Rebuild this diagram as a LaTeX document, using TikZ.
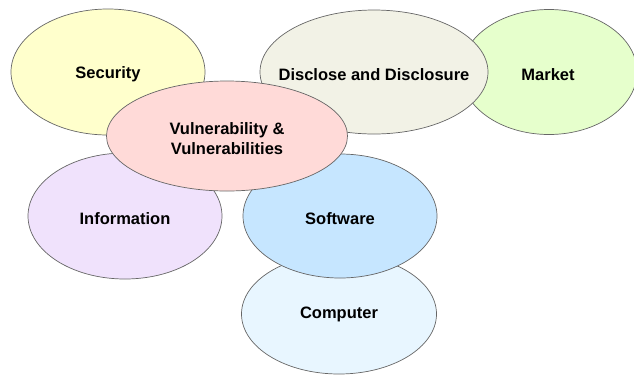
\documentclass[tikz,border=0pt]{standalone}
\usepackage{fontspec}
\setmainfont{Liberation Sans}
\definecolor{cSec}{HTML}{FFFFCC}
\definecolor{cMkt}{HTML}{E6FFCC}
\definecolor{cDis}{HTML}{F2F2E6}
\definecolor{cVul}{HTML}{FFDAD8}
\definecolor{cInf}{HTML}{F0E2FC}
\definecolor{cSoft}{HTML}{C6E6FF}
\definecolor{cComp}{HTML}{E8F6FF}
\definecolor{cEdge}{HTML}{666666}
\tikzset{
  bubble/.style={draw=cEdge, line width=0.7pt},
  topic/.style={inner sep=0pt, align=center, yshift=-2.5pt,
    font=\fontsize{16.5}{20}\selectfont\bfseries}
}
\begin{document}
\begin{tikzpicture}[x=1pt,y=-1pt]
\useasboundingbox (0,0) rectangle (634,376);
% Security
\draw[bubble, fill=cSec] (108,72) ellipse [x radius=97, y radius=63];
\node[topic] (sec) at (108,72) {Security};
% Market
\draw[bubble, fill=cMkt] (549,72) ellipse [x radius=88, y radius=62.5];
\node[topic] (mkt) at (548,72) {Market};
% Disclose and Disclosure
\draw[bubble, fill=cDis] (374,72) ellipse [x radius=114, y radius=62];
\node[topic] (dis) at (374,72) {Disclose and Disclosure};
% Information
\draw[bubble, fill=cInf] (125,216) ellipse [x radius=97, y radius=63];
\node[topic] (inf) at (125,216) {Information};
% Computer
\draw[bubble, fill=cComp] (339,314) ellipse [x radius=97.5, y radius=60];
\node[topic] (comp) at (339,312) {Computer};
% Software
\draw[bubble, fill=cSoft] (340,216) ellipse [x radius=97, y radius=62];
\node[topic] (soft) at (340,216) {Software};
% Vulnerability & Vulnerabilities
\draw[bubble, fill=cVul] (227,136) ellipse [x radius=120.5, y radius=55];
\node[topic] (vul) at (227,136) {Vulnerability \&\\Vulnerabilities};
\end{tikzpicture}
\end{document}
